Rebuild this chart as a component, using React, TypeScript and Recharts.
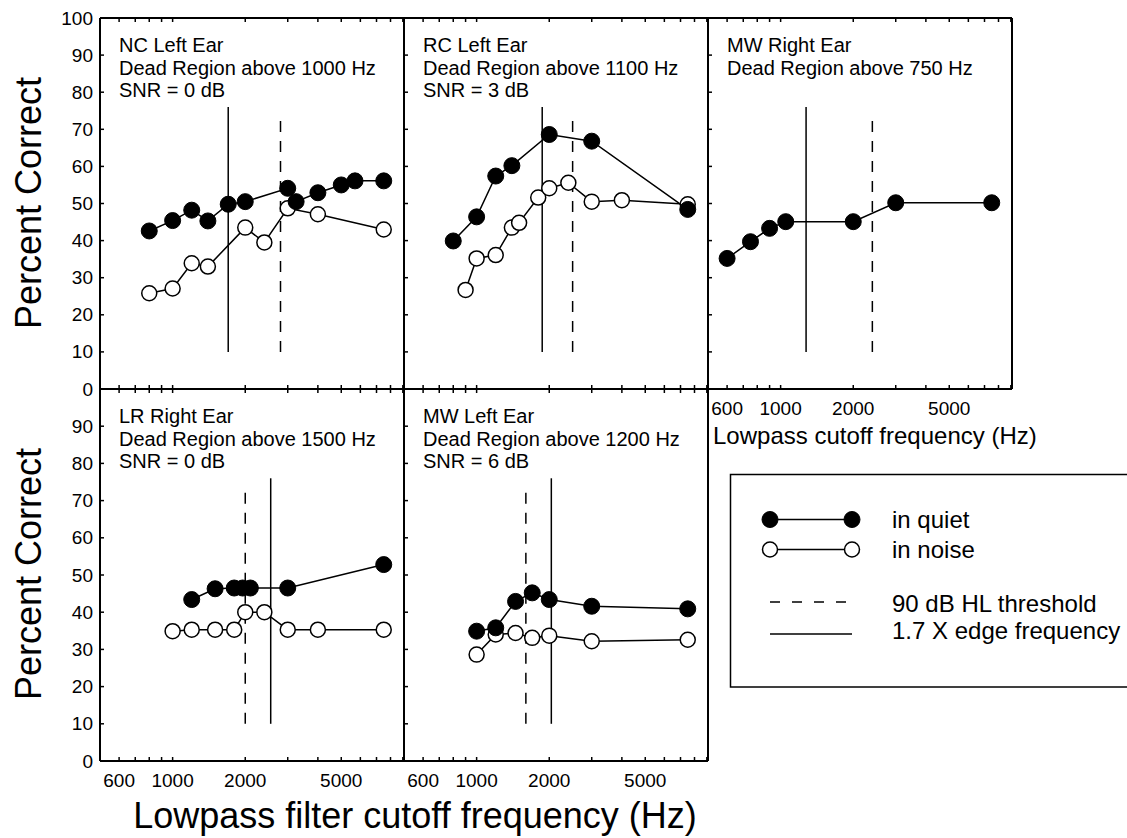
import React from 'react';
import { LineChart, Line, XAxis, YAxis, ReferenceLine } from 'recharts';

const FONT = '"Liberation Sans", Arial, Helvetica, sans-serif';

// ---------- data (frequency in Hz, score in percent correct) ----------
const ncQuietFreq = [800, 1000, 1200, 1400, 1700, 2000, 3000, 3250, 4000, 5000, 5700, 7500];
const ncQuietScore = [42.6, 45.4, 48.2, 45.3, 49.8, 50.5, 54.1, 50.5, 52.9, 55.0, 56.1, 56.1];
const ncNoiseFreq = [800, 1000, 1200, 1400, 2000, 2400, 3000, 4000, 7500];
const ncNoiseScore = [25.8, 27.1, 33.9, 33.0, 43.5, 39.5, 48.7, 47.1, 43.0];

const rcQuietFreq = [800, 1000, 1200, 1400, 2000, 3000, 7500];
const rcQuietScore = [39.9, 46.4, 57.4, 60.2, 68.6, 66.8, 48.4];
const rcNoiseFreq = [900, 1000, 1200, 1400, 1500, 1800, 2000, 2400, 3000, 4000, 7500];
const rcNoiseScore = [26.7, 35.2, 36.1, 43.5, 44.8, 51.6, 54.1, 55.6, 50.5, 50.9, 49.8];

const mwrQuietFreq = [600, 750, 900, 1050, 2000, 3000, 7500];
const mwrQuietScore = [35.2, 39.7, 43.3, 45.1, 45.1, 50.2, 50.2];
const mwrNoiseFreq: number[] = [];
const mwrNoiseScore: number[] = [];

const lrQuietFreq = [1200, 1500, 1800, 1950, 2100, 3000, 7500];
const lrQuietScore = [43.4, 46.3, 46.5, 46.5, 46.5, 46.5, 52.8];
const lrNoiseFreq = [1000, 1200, 1500, 1800, 2000, 2400, 3000, 4000, 7500];
const lrNoiseScore = [34.9, 35.3, 35.3, 35.3, 40.0, 40.0, 35.3, 35.3, 35.3];

const mwlQuietFreq = [1000, 1200, 1450, 1700, 2000, 3000, 7500];
const mwlQuietScore = [34.9, 35.8, 42.9, 45.2, 43.4, 41.6, 40.9];
const mwlNoiseFreq = [1000, 1200, 1450, 1700, 2000, 3000, 7500];
const mwlNoiseScore = [28.6, 34.0, 34.4, 33.1, 33.7, 32.2, 32.6];

// vertical markers: 1.7 x edge frequency (solid) and 90 dB HL threshold (dashed)
const edgeLines = [1700, 1870, 1275, 2550, 2040];
const thresholdLines = [2800, 2500, 2400, 2000, 1600];
const edgeSpan = [10, 76];
const thresholdSpan = [10, 73];

const panelTitles = [
  ['NC Left Ear', 'Dead Region above 1000 Hz', 'SNR = 0 dB'],
  ['RC Left Ear', 'Dead Region above 1100 Hz', 'SNR = 3 dB'],
  ['MW Right Ear', 'Dead Region above 750 Hz'],
  ['LR Right Ear', 'Dead Region above 1500 Hz', 'SNR = 0 dB'],
  ['MW Left Ear', 'Dead Region above 1200 Hz', 'SNR = 6 dB'],
];

const xTicks = [600, 700, 800, 900, 1000, 2000, 3000, 4000, 5000, 6000, 7000, 8000, 9000];
const xTickLabels = [600, 1000, 2000, 5000];
const yTicks = [0, 10, 20, 30, 40, 50, 60, 70, 80, 90, 100];
const xDomain = [500, 9100];
const yDomain = [0, 100];

const legendLabels = ['in quiet', 'in noise', '90 dB HL threshold', '1.7 X edge frequency'];

const zip = (f: number[], s: number[]) => f.map((v, i) => ({ f: v, v: s[i] }));

const series = [
  { quiet: zip(ncQuietFreq, ncQuietScore), noise: zip(ncNoiseFreq, ncNoiseScore) },
  { quiet: zip(rcQuietFreq, rcQuietScore), noise: zip(rcNoiseFreq, rcNoiseScore) },
  { quiet: zip(mwrQuietFreq, mwrQuietScore), noise: zip(mwrNoiseFreq, mwrNoiseScore) },
  { quiet: zip(lrQuietFreq, lrQuietScore), noise: zip(lrNoiseFreq, lrNoiseScore) },
  { quiet: zip(mwlQuietFreq, mwlQuietScore), noise: zip(mwlNoiseFreq, mwlNoiseScore) },
];

// ---------- layout ----------
const PW = 304;
const layout = [
  { left: 100, top: 18, h: 371, yLabels: 'all', xLabels: false },
  { left: 404, top: 18, h: 371, yLabels: 'none', xLabels: false },
  { left: 708, top: 18, h: 371, yLabels: 'none', xLabels: true },
  { left: 100, top: 389, h: 372, yLabels: 'no100', xLabels: true },
  { left: 404, top: 389, h: 372, yLabels: 'none', xLabels: true },
];
const OUT = { top: 10, right: 10, bottom: 40, left: 50 };
const AX = 1; // axis band thickness (kept tiny so axes still render)
const M = { top: OUT.top - AX, right: OUT.right - AX, bottom: OUT.bottom - AX, left: OUT.left - AX };
const TICK = 4;

const makeXTick = (side: 'top' | 'bottom', labelled: boolean) => (props: any) => {
  const { x, y, payload } = props;
  const v = payload.value;
  const dir = side === 'bottom' ? -1 : 1;
  return (
    <g>
      <line x1={x} x2={x} y1={y} y2={y + dir * TICK} stroke="#000" strokeWidth={1.5} />
      {labelled && xTickLabels.includes(v) ? (
        <text x={x} y={y + 26} textAnchor="middle" fontSize={19} fill="#000" fontFamily={FONT}>
          {v}
        </text>
      ) : null}
    </g>
  );
};

const makeYTick = (side: 'left' | 'right', mode: string) => (props: any) => {
  const { x, y, payload } = props;
  const v = payload.value;
  const dir = side === 'left' ? 1 : -1;
  const show = mode === 'all' || (mode === 'no100' && v !== 100);
  return (
    <g>
      <line x1={x} x2={x + dir * TICK} y1={y} y2={y} stroke="#000" strokeWidth={1.5} />
      {show ? (
        <text x={x - 7} y={y + 6.5} textAnchor="end" fontSize={19} fill="#000" fontFamily={FONT}>
          {v}
        </text>
      ) : null}
    </g>
  );
};

const axisLine = { stroke: '#000', strokeWidth: 2 };

function Panel({ idx }: { idx: number }) {
  const L = layout[idx];
  const s = series[idx];
  return (
    <div style={{ position: 'absolute', left: L.left - OUT.left, top: L.top - OUT.top }}>
      <LineChart width={PW + OUT.left + OUT.right} height={L.h + OUT.top + OUT.bottom} margin={M} style={{ fontFamily: FONT }}>
        <XAxis
          xAxisId={0}
          dataKey="f"
          type="number"
          scale="log"
          domain={xDomain}
          allowDataOverflow
          ticks={xTicks}
          interval={0}
          height={AX}
          tickSize={0}
          tickMargin={0}
          tickLine={false}
          axisLine={axisLine}
          tick={makeXTick('bottom', L.xLabels)}
        />
        <XAxis
          xAxisId="top"
          orientation="top"
          dataKey="f"
          type="number"
          scale="log"
          domain={xDomain}
          allowDataOverflow
          ticks={xTicks}
          interval={0}
          height={AX}
          tickSize={0}
          tickMargin={0}
          tickLine={false}
          axisLine={axisLine}
          tick={makeXTick('top', false)}
        />
        <YAxis
          yAxisId={0}
          type="number"
          domain={yDomain}
          ticks={yTicks}
          interval={0}
          width={AX}
          tickSize={0}
          tickMargin={0}
          tickLine={false}
          axisLine={axisLine}
          tick={makeYTick('left', L.yLabels)}
        />
        <YAxis
          yAxisId="right"
          orientation="right"
          type="number"
          domain={yDomain}
          ticks={yTicks}
          interval={0}
          width={AX}
          tickSize={0}
          tickMargin={0}
          tickLine={false}
          axisLine={axisLine}
          tick={makeYTick('right', 'none')}
        />
        <ReferenceLine
          segment={[{ x: edgeLines[idx], y: edgeSpan[0] }, { x: edgeLines[idx], y: edgeSpan[1] }]}
          stroke="#000"
          strokeWidth={1.5}
        />
        <ReferenceLine
          segment={[{ x: thresholdLines[idx], y: thresholdSpan[0] }, { x: thresholdLines[idx], y: thresholdSpan[1] }]}
          stroke="#000"
          strokeWidth={1.5}
          strokeDasharray="11 9"
        />
        {s.noise.length > 0 ? (
          <Line
            data={s.noise}
            dataKey="v"
            type="linear"
            stroke="#000"
            strokeWidth={1.5}
            dot={{ r: 7.5, fill: '#fff', stroke: '#000', strokeWidth: 1.5 }}
            activeDot={false}
            isAnimationActive={false}
          />
        ) : null}
        <Line
          data={s.quiet}
          dataKey="v"
          type="linear"
          stroke="#000"
          strokeWidth={1.5}
          dot={{ r: 8, fill: '#000', stroke: '#000', strokeWidth: 1 }}
          activeDot={false}
          isAnimationActive={false}
        />
      </LineChart>
    </div>
  );
}

function Overlay() {
  const lx1 = 770;
  const lx2 = 852;
  return (
    <svg width={1127} height={838} style={{ position: 'absolute', left: 0, top: 0, pointerEvents: 'none', fontFamily: FONT }}>
      {panelTitles.map((lines, i) =>
        lines.map((t, j) => (
          <text key={`${i}-${j}`} x={layout[i].left + 19} y={layout[i].top + 34 + j * 22.5} fontSize={20} fill="#000">
            {t}
          </text>
        ))
      )}
      <text x={41} y={203} transform="rotate(-90 41 203)" textAnchor="middle" fontSize={36} fill="#000">
        Percent Correct
      </text>
      <text x={41} y={574} transform="rotate(-90 41 574)" textAnchor="middle" fontSize={36} fill="#000">
        Percent Correct
      </text>
      <text x={415} y={828} textAnchor="middle" fontSize={36} fill="#000">
        Lowpass filter cutoff frequency (Hz)
      </text>
      <text x={713} y={444} fontSize={24} fill="#000">
        Lowpass cutoff frequency (Hz)
      </text>
      {/* legend */}
      <rect x={730.5} y={474.5} width={430} height={212.5} fill="none" stroke="#000" strokeWidth={1.5} />
      <line x1={lx1} x2={lx2} y1={519.5} y2={519.5} stroke="#000" strokeWidth={1.5} />
      <circle cx={lx1} cy={519.5} r={8} fill="#000" stroke="#000" />
      <circle cx={lx2} cy={519.5} r={8} fill="#000" stroke="#000" />
      <line x1={lx1} x2={lx2} y1={549.5} y2={549.5} stroke="#000" strokeWidth={1.5} />
      <circle cx={lx1} cy={549.5} r={7.5} fill="#fff" stroke="#000" strokeWidth={1.5} />
      <circle cx={lx2} cy={549.5} r={7.5} fill="#fff" stroke="#000" strokeWidth={1.5} />
      <line x1={lx1} x2={lx2} y1={602} y2={602} stroke="#000" strokeWidth={1.5} strokeDasharray="10 12" />
      <line x1={lx1} x2={lx2} y1={634} y2={634} stroke="#000" strokeWidth={1.5} />
      <text x={892} y={527.5} fontSize={24} fill="#000">{legendLabels[0]}</text>
      <text x={892} y={558} fontSize={24} fill="#000">{legendLabels[1]}</text>
      <text x={892} y={611.5} fontSize={24} fill="#000">{legendLabels[2]}</text>
      <text x={892} y={638.5} fontSize={24} fill="#000">{legendLabels[3]}</text>
    </svg>
  );
}

export default function App() {
  return (
    <div style={{ position: 'absolute', left: 0, top: 0, width: 1127, height: 838, background: '#fff', overflow: 'hidden' }}>
      {layout.map((_, i) => (
        <Panel key={i} idx={i} />
      ))}
      <Overlay />
    </div>
  );
}
